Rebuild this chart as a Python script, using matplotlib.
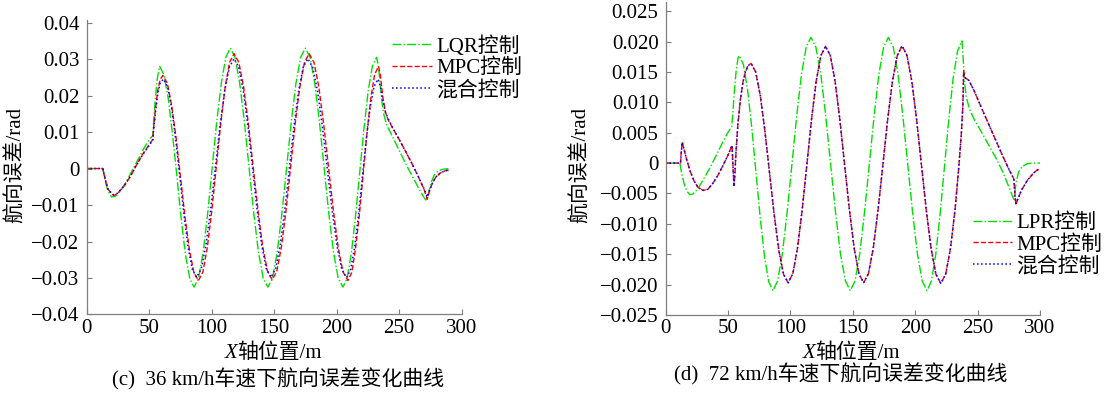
import matplotlib
matplotlib.use("Agg")
import matplotlib.pyplot as plt

plt.rcParams["font.family"] = ["Liberation Serif", "Noto Sans CJK SC"]
plt.rcParams["axes.unicode_minus"] = True

# ---------------- (c) 36 km/h ----------------
c_lqr_x = [0, 13, 15, 17, 20, 23, 27, 32, 37, 42, 47, 51, 53, 53.5, 55, 56.5, 58.5,
           61.9, 65.4, 68.8, 72.3, 75.7, 79.1, 82.6, 86,
           89.6, 93.3, 96.9, 100.5, 104.1, 107.8, 111.4, 115,
           118.75, 122.5, 126.25, 130, 133.75, 137.5, 141.25, 145,
           148.75, 152.5, 156.25, 160, 163.75, 167.5, 171.25, 175,
           178.75, 182.5, 186.25, 190, 193.75, 197.5, 201.25, 205,
           208.4, 211.75, 215.1, 218.5, 221.9, 225.25, 228.6, 232,
           233.5, 235, 236.5, 238, 240, 245, 250, 255, 260, 265, 270, 272,
           274, 276, 278, 281, 285, 290]
c_lqr_y = [0, 0, -0.0035, -0.006, -0.0078, -0.0076, -0.0062, -0.0035, -0.0002, 0.003, 0.0062, 0.0083, 0.009,
           0.012, 0.019, 0.0245, 0.028,
           0.0257, 0.0191, 0.0093, -0.0022, -0.0138, -0.0236, -0.0302, -0.0325,
           -0.0300, -0.0229, -0.0123, 0.0002, 0.0128, 0.0234, 0.0305, 0.033,
           0.0305, 0.0234, 0.0128, 0.0002, -0.0123, -0.0229, -0.0300, -0.0325,
           -0.0300, -0.0229, -0.0123, 0.0002, 0.0128, 0.0234, 0.0305, 0.033,
           0.0305, 0.0234, 0.0128, 0.0002, -0.0123, -0.0229, -0.0300, -0.0325,
           -0.0301, -0.0233, -0.0131, -0.001, 0.0111, 0.0213, 0.0281, 0.0305,
           0.028, 0.0225, 0.0175, 0.0145, 0.012, 0.0085, 0.005, 0.0015, -0.0018, -0.005, -0.008, -0.0089,
           -0.006, -0.0035, -0.0018, -0.0007, -0.0002, 0]

c_mpc_x = [0, 13, 15, 17, 20, 22, 25, 30, 35, 40, 45, 50, 53, 53.5, 55, 57, 59, 61,
           64.6, 68.1, 71.7, 75.25, 78.8, 82.4, 85.9, 89.5,
           93.1, 96.6, 100.2, 103.75, 107.3, 110.9, 114.4, 118,
           121.8, 125.6, 129.4, 133.25, 137.1, 140.9, 144.7, 148.5,
           152.2, 155.9, 159.6, 163.25, 166.9, 170.6, 174.3, 178,
           181.9, 185.75, 189.6, 193.5, 197.4, 201.25, 205.1, 209,
           212.1, 215.1, 218.2, 221.25, 224.3, 227.4, 230.4, 233.5,
           235, 237, 239, 241, 245, 250, 255, 260, 265, 270, 272.5,
           274, 276, 279, 283, 287, 290]
c_mpc_y = [0, 0, -0.003, -0.0055, -0.007, -0.0074, -0.0068, -0.0048, -0.0022, 0.001, 0.004, 0.0065, 0.008,
           0.0105, 0.016, 0.0215, 0.0245, 0.0255,
           0.0234, 0.0173, 0.0082, -0.0026, -0.0134, -0.0225, -0.0286, -0.0307,
           -0.0283, -0.0216, -0.0115, 0.0004, 0.0123, 0.0224, 0.0291, 0.0315,
           0.0291, 0.0224, 0.0124, 0.0005, -0.0114, -0.0214, -0.0281, -0.0305,
           -0.0281, -0.0214, -0.0114, 0.0005, 0.0124, 0.0224, 0.0291, 0.0315,
           0.0291, 0.0224, 0.0123, 0.0004, -0.0115, -0.0216, -0.0283, -0.0307,
           -0.0285, -0.0221, -0.0126, -0.0014, 0.0099, 0.0194, 0.0258, 0.028,
           0.0255, 0.0195, 0.0155, 0.0135, 0.011, 0.008, 0.0048, 0.0015, -0.002, -0.0058, -0.0084,
           -0.0065, -0.0045, -0.0025, -0.0012, -0.0006, -0.0004]

c_mix_x = [0, 13, 15, 17, 20, 22, 25, 30, 35, 40, 45, 50, 53, 53.5, 55, 57, 59, 61.5,
           64.8, 68.1, 71.4, 74.75, 78.1, 81.4, 84.7, 88,
           91.75, 95.5, 99.25, 103, 106.75, 110.5, 114.25, 118,
           121.7, 125.4, 129.1, 132.75, 136.4, 140.1, 143.8, 147.5,
           151.2, 154.9, 158.6, 162.25, 165.9, 169.6, 173.3, 177,
           180.9, 184.75, 188.6, 192.5, 196.4, 200.25, 204.1, 208,
           211.1, 214.25, 217.4, 220.5, 223.6, 226.75, 229.9, 233,
           235, 237, 239, 241, 245, 250, 255, 260, 265, 270, 272.5,
           274, 276, 279, 283, 287, 290]
c_mix_y = [0, 0, -0.003, -0.0055, -0.0068, -0.0072, -0.0067, -0.0048, -0.0022, 0.001, 0.0038, 0.0063, 0.0078,
           0.01, 0.015, 0.0205, 0.0235, 0.0245,
           0.0224, 0.0166, 0.0078, -0.0027, -0.0131, -0.0219, -0.0277, -0.0298,
           -0.0275, -0.0210, -0.0113, 0.0002, 0.0116, 0.0213, 0.0278, 0.0301,
           0.0278, 0.0213, 0.0116, 0.0002, -0.0113, -0.0210, -0.0275, -0.0298,
           -0.0275, -0.0210, -0.0113, 0.0002, 0.0116, 0.0213, 0.0278, 0.0301,
           0.0277, 0.0212, 0.0115, 0.0, -0.0114, -0.0211, -0.0276, -0.0299,
           -0.0278, -0.0219, -0.0131, -0.0027, 0.0077, 0.0165, 0.0224, 0.0245,
           0.0225, 0.0185, 0.0155, 0.0138, 0.011, 0.008, 0.0048, 0.0015, -0.002, -0.0056, -0.0078,
           -0.0063, -0.0044, -0.0024, -0.0012, -0.0006, -0.0004]

c_yticks = [-0.04, -0.03, -0.02, -0.01, 0, 0.01, 0.02, 0.03, 0.04]
c_yticklabels = ["\u22120.04", "\u22120.03", "\u22120.02", "\u22120.01", "0", "0.01", "0.02", "0.03", "0.04"]

# ---------------- (d) 72 km/h ----------------
d_lpr_x = [0, 11.5, 13, 15, 17, 19.5, 22, 26, 30, 35, 40, 45, 49, 52, 53,
           54, 55, 56.5, 58, 59,
           62.4, 65.75, 69.1, 72.5, 75.9, 79.25, 82.6, 86,
           89.8, 93.6, 97.4, 101.25, 105.1, 108.9, 112.7, 116.5,
           120.4, 124.4, 128.3, 132.25, 136.2, 140.1, 144.1, 148,
           151.8, 155.6, 159.4, 163.25, 167.1, 170.9, 174.7, 178.5,
           182.4, 186.25, 190.1, 194, 197.9, 201.75, 205.6, 209.5,
           213, 216.5, 220, 223.5, 227, 230.5, 234, 237.5,
           238.5, 239.5, 241, 243.5, 247, 252, 258, 264, 270, 275, 279,
           280, 281, 283, 286, 290, 295, 300]
d_lpr_y = [0, 0, -0.0018, -0.0035, -0.0046, -0.0052, -0.0051, -0.0042, -0.0028, -0.001, 0.001, 0.0031, 0.0047, 0.0057, 0.0059,
           0.0085, 0.0115, 0.015, 0.0172, 0.0177,
           0.0162, 0.012, 0.0058, -0.0017, -0.0091, -0.0153, -0.0195, -0.021,
           -0.0194, -0.0149, -0.0081, -0.0002, 0.0078, 0.0146, 0.0191, 0.0207,
           0.0191, 0.0146, 0.0078, -0.0002, -0.0081, -0.0149, -0.0194, -0.021,
           -0.0194, -0.0149, -0.0081, -0.0002, 0.0078, 0.0146, 0.0191, 0.0207,
           0.0191, 0.0146, 0.0078, -0.0002, -0.0081, -0.0149, -0.0194, -0.021,
           -0.0194, -0.015, -0.0083, -0.0005, 0.0074, 0.0141, 0.0185, 0.0201,
           0.017, 0.0133, 0.0108, 0.0089, 0.0073, 0.0055, 0.0033, 0.0011, -0.0014, -0.0039, -0.006,
           -0.0045, -0.003, -0.0014, -0.0005, -0.0001, 0, 0]

d_mpc_x = [0, 12, 12.5, 13.3, 14.5, 17, 20, 23, 26, 30, 34, 38, 42, 46, 50, 53.3,
           53.8, 54.8, 55.5, 56.5, 58, 60, 62, 64, 66, 68.5,
           72.2, 75.9, 79.6, 83.35, 87.1, 90.8, 94.5, 98.2,
           101.95, 105.7, 109.45, 113.2, 116.95, 120.7, 124.45, 128.2,
           132, 135.8, 139.6, 143.45, 147.3, 151.1, 154.9, 158.7,
           162.55, 166.4, 170.25, 174.1, 177.95, 181.8, 185.65, 189.5,
           193.4, 197.25, 201.1, 205, 208.9, 212.75, 216.6, 220.5,
           224.4, 228.3, 232, 235, 237, 238.2, 238.8, 239.5, 241, 243, 247, 252, 258, 264, 270, 275, 279,
           280, 280.7, 282, 285, 290, 295, 300]
d_mpc_y = [0, 0, 0.0015, 0.0035, 0.0025, 0.0005, -0.0015, -0.003, -0.004, -0.0045, -0.0043, -0.0033, -0.002, -0.0004, 0.0013, 0.0029,
           0.0005, -0.0037, -0.002, 0.002, 0.0065, 0.0105, 0.0133, 0.015, 0.016, 0.0164,
           0.015, 0.0111, 0.0053, -0.0017, -0.0086, -0.0144, -0.0183, -0.0197,
           -0.0182, -0.014, -0.0077, -0.0003, 0.0072, 0.0135, 0.0177, 0.0192,
           0.0177, 0.0135, 0.0072, -0.0003, -0.0077, -0.014, -0.0182, -0.0197,
           -0.0182, -0.014, -0.0077, -0.0003, 0.0072, 0.0135, 0.0177, 0.0193,
           0.0177, 0.0135, 0.0072, -0.0003, -0.0078, -0.0141, -0.0183, -0.0198,
           -0.0183, -0.014, -0.0075, -0.0005, 0.005, 0.0095, 0.0153, 0.0141, 0.0139, 0.0136, 0.012, 0.0096, 0.0068, 0.004, 0.0012, -0.001, -0.0026,
           -0.0055, -0.0068, -0.0061, -0.0045, -0.0028, -0.0016, -0.0008]

d_mix_x = [0, 12, 12.5, 13.3, 14.5, 17, 20, 23, 26, 30, 34, 38, 42, 46, 50, 53.3,
           53.8, 54.8, 55.5, 56.5, 58, 60, 62, 64, 66, 68.5,
           72.2, 75.9, 79.6, 83.35, 87.1, 90.8, 94.5, 98.2,
           101.95, 105.7, 109.45, 113.2, 116.95, 120.7, 124.45, 128.2,
           132, 135.8, 139.6, 143.45, 147.3, 151.1, 154.9, 158.7,
           162.55, 166.4, 170.25, 174.1, 177.95, 181.8, 185.65, 189.5,
           193.4, 197.25, 201.1, 205, 208.9, 212.75, 216.6, 220.5,
           224.4, 228.3, 232, 235, 237, 238.2, 238.8, 239.5, 241, 243, 247, 252, 258, 264, 270, 275, 279,
           280, 280.7, 282, 285, 290, 295, 300]
d_mix_y = [0, 0, 0.0015, 0.0034, 0.0025, 0.0005, -0.0015, -0.003, -0.004, -0.0045, -0.0043, -0.0033, -0.002, -0.0004, 0.0013, 0.0029,
           0.0005, -0.0038, -0.002, 0.002, 0.0065, 0.0105, 0.0133, 0.015, 0.016, 0.0164,
           0.015, 0.0111, 0.0053, -0.0017, -0.0086, -0.0144, -0.0183, -0.0197,
           -0.0182, -0.014, -0.0077, -0.0003, 0.0072, 0.0135, 0.0177, 0.0192,
           0.0177, 0.0135, 0.0072, -0.0003, -0.0077, -0.014, -0.0182, -0.0197,
           -0.0182, -0.014, -0.0077, -0.0003, 0.0072, 0.0135, 0.0177, 0.0193,
           0.0177, 0.0135, 0.0072, -0.0003, -0.0078, -0.0141, -0.0183, -0.0198,
           -0.0183, -0.014, -0.0075, -0.0005, 0.005, 0.0095, 0.0148, 0.0143, 0.0138, 0.0136, 0.012, 0.0096, 0.0068, 0.004, 0.0012, -0.001, -0.0026,
           -0.0055, -0.0067, -0.006, -0.0045, -0.0028, -0.0016, -0.0008]

d_yticks = [-0.025, -0.02, -0.015, -0.01, -0.005, 0, 0.005, 0.01, 0.015, 0.02, 0.025]
d_yticklabels = ["\u22120.025", "\u22120.020", "\u22120.015", "\u22120.010", "\u22120.005", "0",
                 "0.005", "0.010", "0.015", "0.020", "0.025"]

xticks = [0, 50, 100, 150, 200, 250, 300]
ylabel = "航向误差/rad"
xlabel_var = "X"
xlabel_rest = "轴位置/m"

GREEN = "#00e000"
RED = "#ff0000"
BLUE = "#0000ff"
AXC = "#7f7f7f"
FS = 15

fig = plt.figure(figsize=(11.05, 3.94), dpi=100)


def style_axes(ax, yticks, yticklabels):
    for s in ("top", "right"):
        ax.spines[s].set_visible(False)
    for s in ("left", "bottom"):
        ax.spines[s].set_color(AXC)
        ax.spines[s].set_linewidth(0.9)
    ax.set_xlim(0, 300)
    ax.set_xticks(xticks)
    ax.set_yticks(yticks)
    ax.set_yticklabels(yticklabels)
    ax.tick_params(direction="in", length=3.5, width=0.8, color=AXC,
                   labelsize=FS)
    ax.tick_params(axis="x", pad=3)
    ax.tick_params(axis="y", pad=5)


# left panel
ax1 = fig.add_axes([0.0783, 0.2018, 0.3395, 0.7474])
ax1.plot(c_lqr_x, c_lqr_y, "-.", color=GREEN, lw=1.0, label="LQR控制")
ax1.plot(c_mpc_x, c_mpc_y, "--", color=RED, lw=1.0, label="MPC控制")
ax1.plot(c_mix_x, c_mix_y, ":", color=BLUE, lw=1.1, label="混合控制")
ax1.set_ylim(-0.04, 0.0407)
style_axes(ax1, c_yticks, c_yticklabels)
ax1.legend(loc="upper left", bbox_to_anchor=(0.815, 0.945), frameon=False,
           fontsize=FS, handlelength=1.9, handletextpad=0.2, labelspacing=0.1,
           borderaxespad=0, borderpad=0)

# right panel
ax2 = fig.add_axes([0.6023, 0.2005, 0.3389, 0.7944])
ax2.plot(d_lpr_x, d_lpr_y, "-.", color=GREEN, lw=1.0, label="LPR控制")
ax2.plot(d_mpc_x, d_mpc_y, "--", color=RED, lw=1.0, label="MPC控制")
ax2.plot(d_mix_x, d_mix_y, ":", color=BLUE, lw=1.1, label="混合控制")
ax2.set_ylim(-0.025, 0.0265)
style_axes(ax2, d_yticks, d_yticklabels)
ax2.legend(loc="upper left", bbox_to_anchor=(0.82, 0.325), frameon=False,
           fontsize=FS, handlelength=1.9, handletextpad=0.2, labelspacing=0.1,
           borderaxespad=0, borderpad=0)

# axis labels and captions
for yl_x in (16, 581):
    fig.text(yl_x / 1105, 1 - 165 / 394, ylabel, rotation=90, ha="center",
             va="center", fontsize=FS)
for split_x in (237, 815):
    fig.text(split_x / 1105, 1 - 353 / 394, xlabel_var, ha="right", va="center",
             fontsize=FS, style="italic")
    fig.text(split_x / 1105, 1 - 353 / 394, xlabel_rest, ha="left", va="center",
             fontsize=FS)
fig.text(278 / 1105, 1 - 379 / 394, "(c)  36 km/h车速下航向误差变化曲线",
         ha="center", va="center", fontsize=FS)
fig.text(841 / 1105, 1 - 374 / 394, "(d)  72 km/h车速下航向误差变化曲线",
         ha="center", va="center", fontsize=FS)

fig.savefig("out.png", dpi=100)
